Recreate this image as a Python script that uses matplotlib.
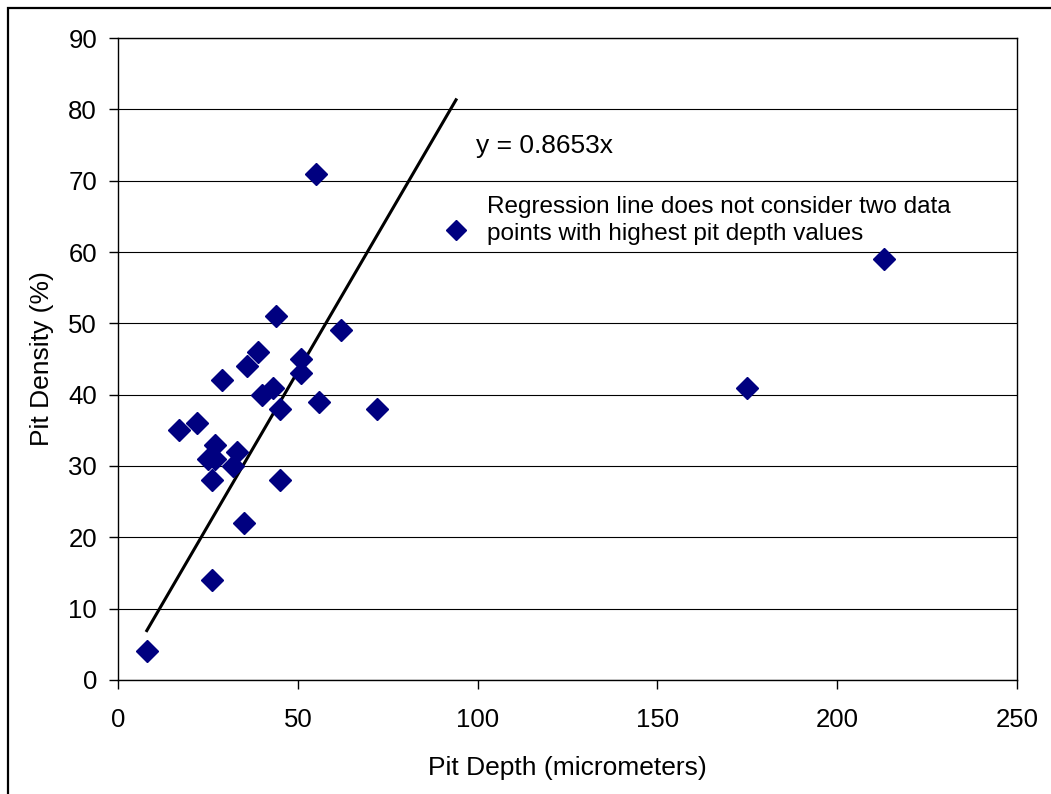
import matplotlib
matplotlib.use("Agg")
import matplotlib.pyplot as plt
import numpy as np
from matplotlib.patches import Rectangle
from matplotlib.transforms import Affine2D

plt.rcParams['font.family'] = ['Liberation Sans', 'DejaVu Sans']

pit_depth = [44, 62, 39, 51, 36, 51, 29, 43, 40, 56, 45, 72, 22, 17, 27, 33,
             25, 27, 32, 26, 45, 35, 26, 8, 55, 175, 213]
pit_density = [51, 49, 46, 45, 44, 43, 42, 41, 40, 39, 38, 38, 36, 35, 33, 32,
               31, 31, 30, 28, 28, 22, 14, 4, 71, 41, 59]

slope = 0.8653
trend_x = [8, 94]

equation_label = "y = 0.8653x"
legend_label = "Regression line does not consider two data\npoints with highest pit depth values"

x_ticks = [0, 50, 100, 150, 200, 250]
y_ticks = [0, 10, 20, 30, 40, 50, 60, 70, 80, 90]

fig = plt.figure(figsize=(10.51, 7.94), dpi=100)
ax = fig.add_axes([0.1123, 0.1436, 0.8553, 0.8085])

# outer chart border (top and left visible)
fig.patches.append(Rectangle((0.0072, -0.05), 1.1, 1.0402, transform=fig.transFigure,
                             fill=False, edgecolor='black', linewidth=1.6, clip_on=False))

ax.set_xlim(0, 250)
ax.set_ylim(0, 90)
ax.set_xticks(x_ticks)
ax.set_yticks(y_ticks)
ax.yaxis.grid(True, color='black', linewidth=0.8)
ax.set_axisbelow(True)

tx = np.array(trend_x, dtype=float)
ax.plot(tx, slope * tx, color='black', linewidth=2.2, zorder=2)

sc, = ax.plot(pit_depth, pit_density, linestyle='none', marker='D', markersize=11,
              color='#000080', markeredgecolor='#000080', zorder=3, label=legend_label)

ax.text(99.5, 73.9, equation_label, fontsize=19, ha='left', va='baseline')

leg = ax.legend(handles=[sc], loc='upper left', bbox_to_anchor=(0.3624, 0.7545),
                frameon=False, fontsize=17.5, handletextpad=0.78, handlelength=1.0,
                markerscale=0.95, borderaxespad=0, borderpad=0)
for t in leg.get_texts():
    t.set_linespacing(1.3)
for h in leg.legend_handles:
    h.set_transform(h.get_transform() + Affine2D().translate(0, -10))

for s in ax.spines.values():
    s.set_color('black')
    s.set_linewidth(1.0)

ax.tick_params(axis='both', direction='out', length=6.5, width=1, colors='black',
               labelsize=18.5, pad=8.6)
ax.tick_params(axis='x', pad=14)

ax.set_xlabel("Pit Depth (micrometers)", fontsize=19, labelpad=17)
ax.set_ylabel("Pit Density (%)", fontsize=19, labelpad=10)

fig.savefig("out.png", dpi=100)
